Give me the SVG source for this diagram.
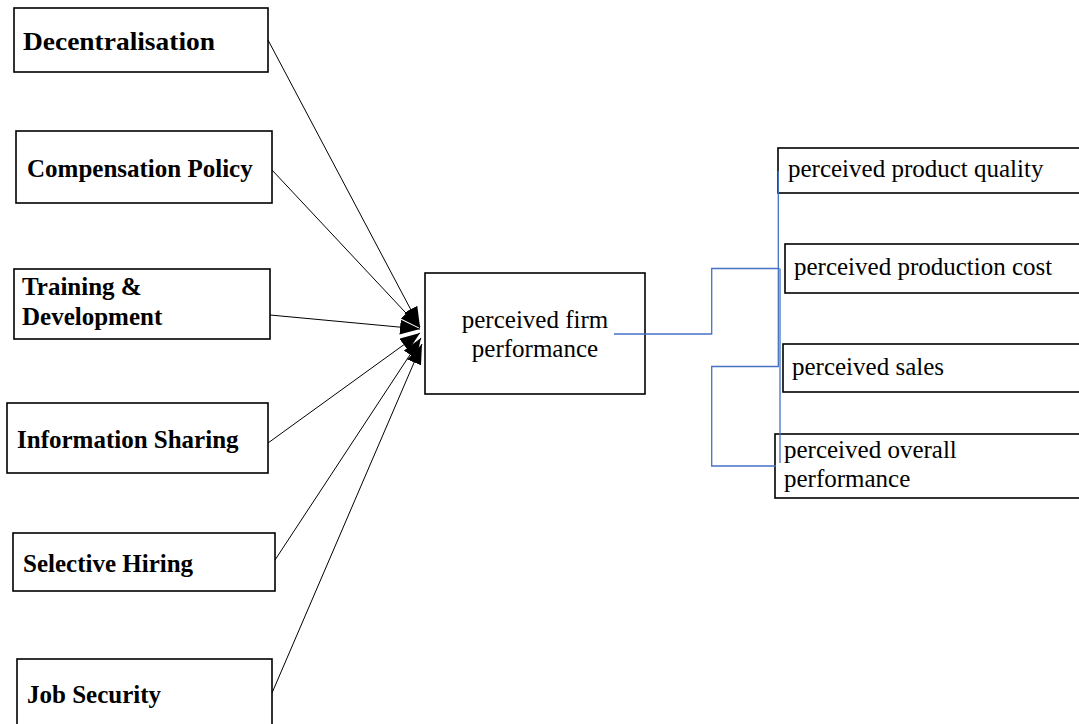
<svg xmlns="http://www.w3.org/2000/svg" width="1079" height="724" viewBox="0 0 1079 724">
<style>
.box{fill:#fff;stroke:#000;stroke-width:1.6}
.b{font-family:"Liberation Serif","Times New Roman",serif;font-weight:bold;font-size:25px;fill:#000}
.r{font-family:"Liberation Serif","Times New Roman",serif;font-size:25px;fill:#000}
.arr{stroke:#000;stroke-width:1;fill:none;marker-end:url(#ah)}
.blue{stroke:#4472C4;stroke-width:1.3;fill:none}
</style>
<defs>
<marker id="ah" markerUnits="userSpaceOnUse" markerWidth="22" markerHeight="16" refX="20" refY="7.5" orient="auto">
<path d="M0,0 L20,7.5 L0,15 z" fill="#000"/>
</marker>
</defs>
<rect width="1079" height="724" fill="#fff"/>
<g id="n-decentralisation"><rect class="box" x="14" y="8" width="254" height="64"/><text class="b" x="23" y="50" textLength="192" lengthAdjust="spacingAndGlyphs">Decentralisation</text></g>
<g id="n-compensation"><rect class="box" x="16" y="131" width="256" height="72"/><text class="b" x="27" y="177">Compensation Policy</text></g>
<g id="n-training"><rect class="box" x="14" y="269" width="256" height="70"/><text class="b" x="22" y="295">Training &amp;</text><text class="b" x="22" y="325">Development</text></g>
<g id="n-info"><rect class="box" x="7" y="403" width="261" height="70"/><text class="b" x="17" y="448">Information Sharing</text></g>
<g id="n-selective"><rect class="box" x="13" y="533" width="262" height="58"/><text class="b" x="23" y="572">Selective Hiring</text></g>
<g id="n-job"><rect class="box" x="17" y="659" width="255" height="80"/><text class="b" x="27" y="703">Job Security</text></g>
<g id="n-firm"><rect class="box" x="425" y="273" width="220" height="121"/><text class="r" x="535" y="328" text-anchor="middle">perceived firm</text><text class="r" x="535" y="357" text-anchor="middle">performance</text></g>
<g id="n-quality"><rect class="box" x="778" y="148" width="310" height="45"/><text class="r" x="788" y="177">perceived product quality</text></g>
<g id="n-cost"><rect class="box" x="785" y="244" width="300" height="49"/><text class="r" x="794" y="275">perceived production cost</text></g>
<g id="n-sales"><rect class="box" x="783" y="344" width="300" height="48"/><text class="r" x="792" y="375">perceived sales</text></g>
<g id="n-overall"><rect class="box" x="775" y="434" width="310" height="64"/><text class="r" x="784" y="458">perceived overall</text><text class="r" x="784" y="487">performance</text></g>
<g id="connectors">
<line class="arr" x1="268" y1="40" x2="420" y2="327"/>
<line class="arr" x1="272" y1="170" x2="420" y2="328"/>
<line class="arr" x1="270" y1="315" x2="420" y2="329"/>
<line class="arr" x1="268" y1="443" x2="420" y2="333"/>
<line class="arr" x1="275" y1="560" x2="421" y2="338"/>
<line class="arr" x1="272" y1="693" x2="422" y2="344"/>
<polyline class="blue" points="614,334 711.7,334 711.7,268.5 779.5,268.5"/>
<polyline class="blue" points="778.3,171 778.3,366.5 711.7,366.5 711.7,466 776,466"/>
<line class="blue" x1="780" y1="268.5" x2="780" y2="463"/>
</g>
</svg>
